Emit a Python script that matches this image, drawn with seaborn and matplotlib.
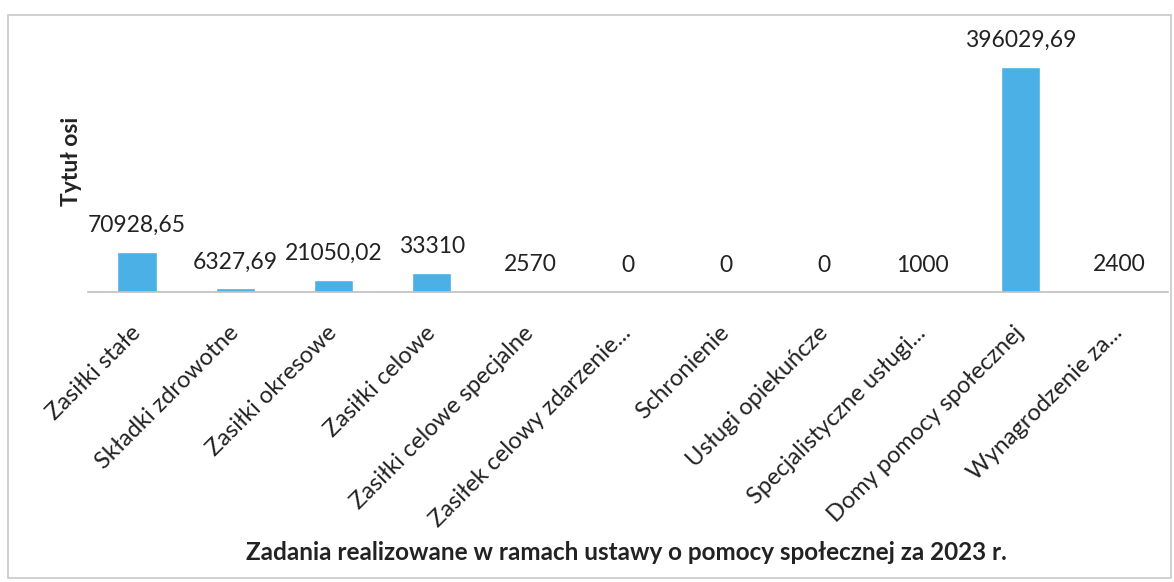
import numpy as np
import pandas as pd
import matplotlib
matplotlib.use('Agg')
import matplotlib.pyplot as plt
from matplotlib.patches import Rectangle
import seaborn as sns

categories = ['Zasiłki stałe', 'Składki zdrowotne', 'Zasiłki okresowe', 'Zasiłki celowe',
              'Zasiłki celowe specjalne', 'Zasiłek celowy zdarzenie...', 'Schronienie',
              'Usługi opiekuńcze', 'Specjalistyczne usługi...', 'Domy pomocy społecznej',
              'Wynagrodzenie za...']
values = [70928.65, 6327.69, 21050.02, 33310, 2570, 0, 0, 0, 1000, 396029.69, 2400]

title = 'Zadania realizowane w ramach ustawy o pomocy społecznej za 2023 r.'
ylabel = 'Tytuł osi'

df = pd.DataFrame({'kategoria': categories, 'kwota': values})

sns.set_style('white')
plt.rcParams['font.family'] = ['Lato', 'DejaVu Sans']

fig = plt.figure(figsize=(11.74, 5.82), dpi=100)
ax = fig.add_axes([88 / 1174, 1 - 292 / 582, (1168 - 88) / 1174, 262 / 582])

sns.barplot(data=df, x='kategoria', y='kwota', color='#4AB0E6', width=0.4,
            saturation=1, ax=ax)

ax.set_xlim(-0.5, len(categories) - 0.5)
ax.set_ylim(0, 461000)


def fmt(v):
    if float(v).is_integer():
        return str(int(v))
    return f'{v:.2f}'.replace('.', ',')


for i, v in enumerate(values):
    ax.annotate(fmt(v), (i, v), xytext=(0, 19), textcoords='offset points',
                ha='center', va='center', fontsize=16.5, color='#222222')

# only the bottom line, ticks sit between categories
for s in ['top', 'right', 'left']:
    ax.spines[s].set_visible(False)
ax.spines['bottom'].set_color('#BFBFBF')
ax.spines['bottom'].set_linewidth(1.2)
ax.set_yticks([])
ax.set_xticks(np.arange(len(categories) + 1) - 0.5, minor=True)
ax.tick_params(axis='x', which='minor', length=5, color='#D0D0D0', width=1)
ax.tick_params(axis='x', which='major', length=0, pad=27)
ax.set_xticks(range(len(categories)))
ax.set_xticklabels(categories, rotation=45, ha='right', va='center',
                   rotation_mode='anchor', fontsize=17, color='#222222')

ax.set_xlabel('')
ax.set_ylabel(ylabel, fontsize=16.5, fontweight='bold', color='#222222', labelpad=4)

fig.text(626 / 1174, 1 - 553 / 582, title, ha='center', va='center',
         fontsize=17.5, fontweight='bold', color='#222222')

fig.patches.append(Rectangle((8 / 1174, 1 - 578 / 582), 1163 / 1174, 563 / 582,
                             transform=fig.transFigure, fill=False,
                             edgecolor='#C8C8C8', linewidth=1.2))

fig.savefig('out.png', dpi=100)
